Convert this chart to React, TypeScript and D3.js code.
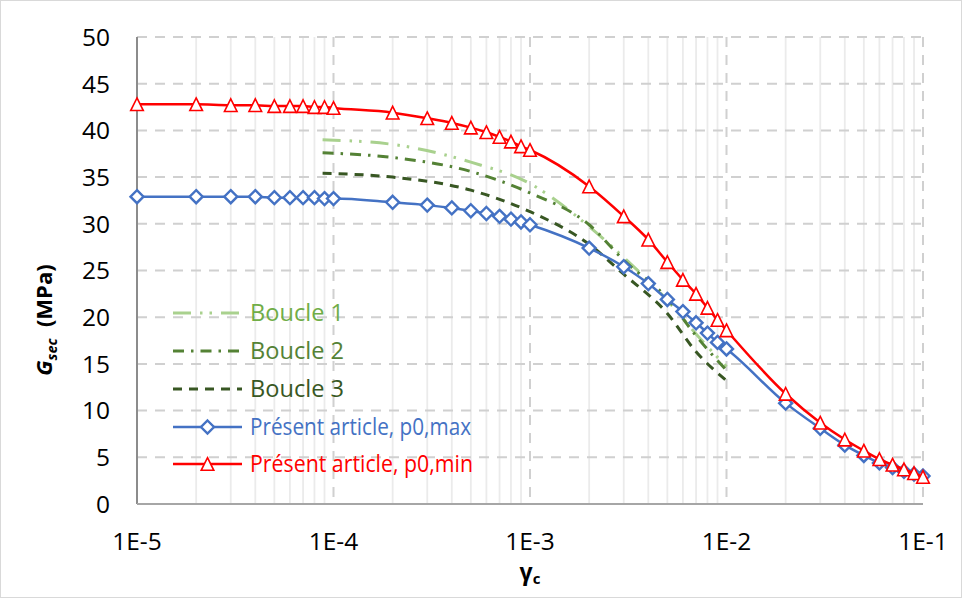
import React from "react";
import * as d3 from "d3";

const strain = [
  1e-5, 2e-5, 3e-5, 4e-5, 5e-5, 6e-5, 7e-5, 8e-5, 9e-5,
  1e-4, 2e-4, 3e-4, 4e-4, 5e-4, 6e-4, 7e-4, 8e-4, 9e-4,
  1e-3, 2e-3, 3e-3, 4e-3, 5e-3, 6e-3, 7e-3, 8e-3, 9e-3,
  1e-2, 2e-2, 3e-2, 4e-2, 5e-2, 6e-2, 7e-2, 8e-2, 9e-2, 1e-1,
];
const gMax = [
  32.9, 32.9, 32.9, 32.9, 32.8, 32.8, 32.8, 32.8, 32.7,
  32.7, 32.3, 32.0, 31.7, 31.4, 31.1, 30.8, 30.5, 30.2,
  29.9, 27.4, 25.4, 23.6, 21.9, 20.6, 19.4, 18.3, 17.3,
  16.6, 10.8, 8.1, 6.3, 5.2, 4.4, 3.9, 3.5, 3.2, 3.0,
];
const gMin = [
  42.8, 42.8, 42.7, 42.7, 42.6, 42.6, 42.6, 42.5, 42.5,
  42.4, 41.9, 41.3, 40.8, 40.3, 39.8, 39.3, 38.8, 38.3,
  37.9, 34.0, 30.8, 28.3, 25.9, 24.0, 22.5, 21.0, 19.7,
  18.6, 11.8, 8.7, 6.9, 5.7, 4.8, 4.2, 3.7, 3.3, 2.9,
];
const boucleStrain = [8.8e-5, 2e-4, 5e-4, 1e-3, 2e-3, 3e-3, 5e-3, 7e-3, 1e-2];
const boucle1 = [39.0, 38.5, 36.6, 34.3, 29.7, 26.4, 21.8, 18.2, 14.7];
const boucle2 = [37.6, 37.1, 35.6, 33.3, 29.9, 26.1, 22.0, 18.0, 14.3];
const boucle3 = [35.4, 35.0, 33.6, 31.3, 27.8, 24.6, 20.4, 16.3, 13.2];

const xTicks = [1e-5, 1e-4, 1e-3, 1e-2, 1e-1];
const xTickLabels = ["1E-5", "1E-4", "1E-3", "1E-2", "1E-1"];
const yTicks = [0, 5, 10, 15, 20, 25, 30, 35, 40, 45, 50];
const legendLabels = [
  "Boucle 1",
  "Boucle 2",
  "Boucle 3",
  "Présent article, p0,max",
  "Présent article, p0,min",
];

const W = 962;
const H = 598;
const FONT = "'Open Sans', sans-serif";

const x = d3.scaleLog().domain([1e-5, 1e-1]).range([137, 923]);
const y = d3.scaleLinear().domain([0, 50]).range([504, 37]);

const line = d3
  .line<[number, number]>()
  .x((d) => x(d[0]))
  .y((d) => y(d[1]))
  .curve(d3.curveMonotoneX);

const zip = (xs: number[], ys: number[]) =>
  xs.map((v, i) => [v, ys[i]] as [number, number]);

const BLUE = "#4472C4";
const RED = "#FF0000";
const G1 = "#A9D18E";
const G2 = "#548235";
const G3 = "#385723";
const G1TEXT = "#70AD47";

const dashes = {
  b1: "18,9,2.5,7,2.5,9",
  b2: "11,7,2.5,7",
  b3: "9,7",
};

function diamond(cx: number, cy: number, r: number) {
  return `M${cx},${cy - r}L${cx + r},${cy}L${cx},${cy + r}L${cx - r},${cy}Z`;
}
function triangle(cx: number, cy: number, r: number) {
  return `M${cx},${cy - r}L${cx + r},${cy + r}L${cx - r},${cy + r}Z`;
}

export default function App() {
  const minors: number[] = [];
  for (let e = -5; e < -1; e++) {
    for (let m = 2; m <= 9; m++) minors.push(m * Math.pow(10, e));
  }
  const legendY = [313, 351, 389, 427, 464];
  const legendWidths = [94, 94, 94, 221, 223];
  return (
    <svg
      width={W}
      height={H}
      style={{ position: "absolute", left: 0, top: 0, background: "#fff" }}
      fontFamily={FONT}
    >
      <rect x={0.5} y={0.5} width={W - 1} height={H - 1} fill="#fff" stroke="#d9d9d9" />
      {minors.map((m, i) => (
        <line key={"mn" + i} x1={x(m)} x2={x(m)} y1={y(50)} y2={y(0)} stroke="#ebebeb" strokeWidth={1.8} />
      ))}
      {yTicks.slice(1).map((t) => (
        <line key={"hy" + t} x1={x(1e-5)} x2={x(1e-1)} y1={y(t)} y2={y(t)} stroke="#d0d0d0" strokeWidth={2} strokeDasharray="10,8" />
      ))}
      {xTicks.slice(1).map((t) => (
        <line key={"vx" + t} x1={x(t)} x2={x(t)} y1={y(50)} y2={y(0)} stroke="#d0d0d0" strokeWidth={2} strokeDasharray="10,8" />
      ))}
      <line x1={x(1e-5)} x2={x(1e-5)} y1={y(50)} y2={y(0)} stroke="#8c8c8c" strokeWidth={2} />
      <line x1={x(1e-5)} x2={x(1e-1)} y1={y(0)} y2={y(0)} stroke="#a6a6a6" strokeWidth={2} />
      {yTicks.map((t) => (
        <text key={"yl" + t} x={110} y={y(t) + 8.8} textAnchor="end" fontSize={24.5} fill="#000">
          {t}
        </text>
      ))}
      {xTicks.map((t, i) => (
        <text key={"xl" + t} x={x(t)} y={549.5} textAnchor="middle" fontSize={24.5} fill="#000">
          {xTickLabels[i]}
        </text>
      ))}
      <text transform="translate(52,320) rotate(-90)" textAnchor="middle" fontSize={22} fontWeight="bold" fill="#000">
        <tspan fontStyle="italic">G</tspan>
        <tspan fontStyle="italic" fontSize={14.5} dy={5}>sec</tspan>
        <tspan dy={-5}>{"\u00a0\u00a0(MPa)"}</tspan>
      </text>
      <text x={530} y={580} textAnchor="middle" fontSize={23} fontWeight="bold" fill="#000">
        <tspan>γ</tspan>
        <tspan fontSize={15} dy={4}>c</tspan>
      </text>
      <path d={line(zip(boucleStrain, boucle1)) || ""} fill="none" stroke={G1} strokeWidth={3} strokeDasharray={dashes.b1} />
      <path d={line(zip(boucleStrain, boucle2)) || ""} fill="none" stroke={G2} strokeWidth={3} strokeDasharray={dashes.b2} />
      <path d={line(zip(boucleStrain, boucle3)) || ""} fill="none" stroke={G3} strokeWidth={3} strokeDasharray={dashes.b3} />
      <path d={line(zip(strain, gMax)) || ""} fill="none" stroke={BLUE} strokeWidth={2.5} />
      {strain.map((s, i) => (
        <path key={"bm" + i} d={diamond(x(s), y(gMax[i]), 6.5)} fill="#fff" stroke={BLUE} strokeWidth={2.4} />
      ))}
      <path d={line(zip(strain, gMin)) || ""} fill="none" stroke={RED} strokeWidth={2.5} />
      {strain.map((s, i) => (
        <path key={"rm" + i} d={triangle(x(s), y(gMin[i]), 6.3)} fill="#fff" stroke={RED} strokeWidth={1.6} />
      ))}
      <line x1={173} x2={242} y1={legendY[0]} y2={legendY[0]} stroke={G1} strokeWidth={3} strokeDasharray={dashes.b1} />
      <line x1={173} x2={242} y1={legendY[1]} y2={legendY[1]} stroke={G2} strokeWidth={3} strokeDasharray={dashes.b2} />
      <line x1={173} x2={242} y1={legendY[2]} y2={legendY[2]} stroke={G3} strokeWidth={3} strokeDasharray={dashes.b3} />
      <line x1={173} x2={242} y1={legendY[3]} y2={legendY[3]} stroke={BLUE} strokeWidth={2.5} />
      <path d={diamond(207.5, legendY[3], 6.5)} fill="#fff" stroke={BLUE} strokeWidth={2.4} />
      <line x1={173} x2={242} y1={legendY[4]} y2={legendY[4]} stroke={RED} strokeWidth={2.5} />
      <path d={triangle(207.5, legendY[4], 6.3)} fill="#fff" stroke={RED} strokeWidth={1.6} />
      {legendLabels.map((l, i) => (
        <text
          key={"lg" + i}
          x={250}
          y={legendY[i] + 8.2}
          fontSize={23}
          textLength={legendWidths[i]}
          lengthAdjust="spacingAndGlyphs"
          fill={[G1TEXT, G2, G3, BLUE, RED][i]}
        >
          {l}
        </text>
      ))}
    </svg>
  );
}
